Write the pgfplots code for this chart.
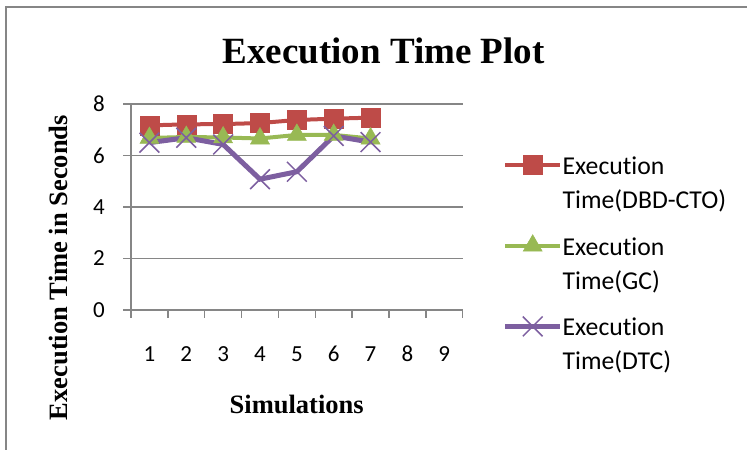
\documentclass[border=0pt]{standalone}
\usepackage{fontspec}
\setmainfont{Liberation Serif}
\newfontfamily\calibri[Ligatures=NoCommon]{Carlito}
\usepackage{pgfplots}
\pgfplotsset{compat=1.18}
\definecolor{cred}{HTML}{BE4B48}
\definecolor{cgreen}{HTML}{98B954}
\definecolor{cpurple}{HTML}{7D5FA0}
\definecolor{cgrid}{HTML}{868686}
\begin{document}
\begin{tikzpicture}
\useasboundingbox (0,0) rectangle (747bp,450bp);
\draw[cgrid, line width=1.5bp] (6bp,-5bp) -- (6bp,443bp) -- (760bp,443bp);
\node[font=\bfseries\fontsize{37bp}{40bp}\selectfont, anchor=base, inner sep=0pt] at (383.5bp,386bp) {Execution Time Plot};
\node[font=\bfseries\fontsize{26.5bp}{30bp}\selectfont, anchor=base, rotate=90, inner sep=0pt] at (67bp,182.5bp) {Execution Time in Seconds};
\node[font=\bfseries\fontsize{26.5bp}{30bp}\selectfont, anchor=base, inner sep=0pt] at (296.7bp,36.7bp) {Simulations};
\begin{axis}[
  at={(131bp,140bp)}, anchor=south west,
  scale only axis, width=331.7bp, height=206bp,
  xmin=0.5, xmax=9.5, ymin=0, ymax=8,
  axis lines=left, axis line style={-, cgrid, line width=1.5bp},
  tick align=outside, major tick length=8bp,
  tick style={cgrid, line width=1.5bp},
  xtick={0.5,1.5,2.5,3.5,4.5,5.5,6.5,7.5,8.5,9.5},
  xticklabels={},
  extra x ticks={1,2,3,4,5,6,7,8,9},
  extra x tick labels={1,2,3,4,5,6,7,8,9},
  extra x tick style={major tick length=0pt, grid=none,
     xticklabel style={anchor=base, inner sep=0pt, yshift=-51bp}},
  ytick={0,2,4,6,8}, yticklabels={0,2,4,6,8},
  yticklabel style={anchor=east, inner sep=0pt, xshift=-18bp},
  ticklabel style={font=\calibri\fontsize{23bp}{27bp}\selectfont},
  ymajorgrids, grid style={cgrid, line width=1.5bp},
  legend style={draw=none, fill=none, inner sep=0pt, outer sep=0pt,
     at={(1,1)}, anchor=north west, xshift=40bp, yshift=-46.5bp,
     row sep=55.4bp, column sep=0pt,
     font=\calibri\fontsize{25.7bp}{34bp}\selectfont,
     cells={anchor=base west}, nodes={inner sep=0pt}},
  legend image code/.code={\draw[mark repeat=2,mark phase=2,#1] plot coordinates {(0bp,9.3bp)(27.5bp,9.3bp)(55bp,9.3bp)};},
]
\addplot[cred, line width=4bp, mark=square*, mark size=9.5bp, mark options={solid, line width=0.5bp, fill=cred}]
  coordinates {(1,7.17)(2,7.21)(3,7.22)(4,7.26)(5,7.38)(6,7.43)(7,7.47)};
\addlegendentry{\begin{tabular}[t]{@{}l@{}}Execution\\Time(DBD-CTO)\end{tabular}}
\addplot[cgreen, line width=4bp, mark=triangle*, mark size=11bp, mark options={solid, line width=0.5bp, fill=cgreen}]
  coordinates {(1,6.68)(2,6.72)(3,6.7)(4,6.66)(5,6.8)(6,6.8)(7,6.66)};
\addlegendentry{\begin{tabular}[t]{@{}l@{}}Execution\\Time(GC)\end{tabular}}
\addplot[cpurple, line width=5bp, mark=x, mark size=14bp, mark options={solid, line width=1.5bp}]
  coordinates {(1,6.5)(2,6.69)(3,6.43)(4,5.08)(5,5.37)(6,6.76)(7,6.52)};
\addlegendentry{\begin{tabular}[t]{@{}l@{}}Execution\\Time(DTC)\end{tabular}}
\end{axis}
\end{tikzpicture}
\end{document}
